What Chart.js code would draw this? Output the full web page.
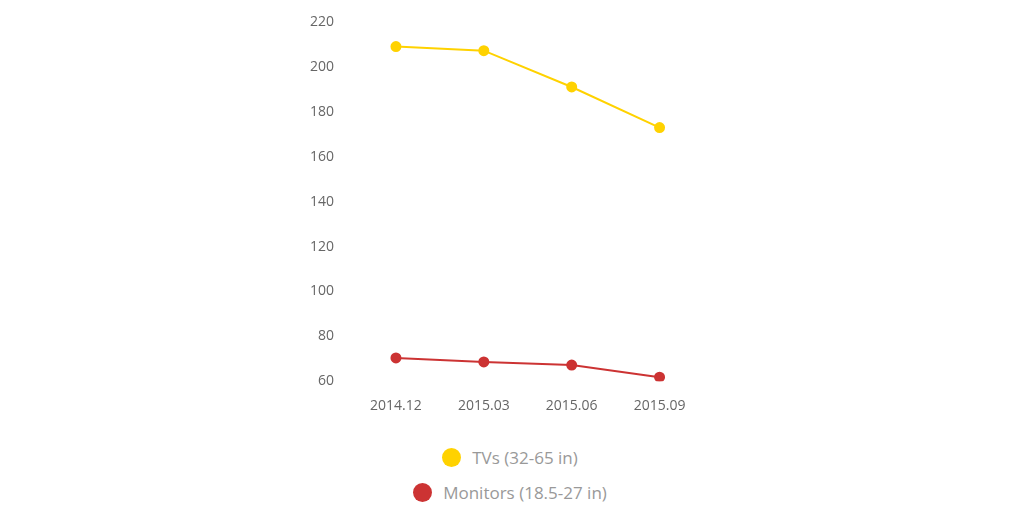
<!DOCTYPE html>
<html><head><meta charset="utf-8">
<script src="https://cdn.jsdelivr.net/npm/chart.js"></script>
<style>html,body{margin:0;background:#fff}#w{position:absolute;left:300px;top:4px;width:410px;height:418px}
#lg{position:absolute;left:300px;width:420px;top:440px;font-family:'Open Sans';font-size:17px;color:#999;text-align:center}
.it{display:flex;justify-content:center;align-items:center;height:35px}.d{width:19px;height:19px;border-radius:50%;margin-right:11px}</style>
</head><body><div id="w"><canvas id="c"></canvas></div><div id="lg"></div>
<script>
const categories=["2014.12","2015.03","2015.06","2015.09"];
const tvs=[209.2,207.4,191.2,173.1];
const monitors=[70.4,68.6,67.2,61.8];
const seriesNames=["TVs (32-65 in)","Monitors (18.5-27 in)"];
const colors=['#ffd200','#cc3333'];
const ch=new Chart(document.getElementById('c'),{type:'line',
data:{labels:categories,datasets:[
{label:seriesNames[0],data:tvs,borderColor:colors[0],backgroundColor:colors[0],pointRadius:4.5,borderWidth:2,tension:0},
{label:seriesNames[1],data:monitors,borderColor:colors[1],backgroundColor:colors[1],pointRadius:4.5,borderWidth:2,tension:0}]},
options:{responsive:true,maintainAspectRatio:false,animation:false,
layout:{padding:{right:6,top:8}},
scales:{x:{offset:true,grid:{display:false},border:{display:false},ticks:{color:'#666',font:{family:'Open Sans',size:14},padding:8}},
y:{min:60,max:220,grid:{display:false},border:{display:false},ticks:{stepSize:20,color:'#666',font:{family:'Open Sans',size:14},padding:10}}},
plugins:{tooltip:{enabled:false},legend:{display:false}}}});
document.getElementById('lg').innerHTML=ch.data.datasets.map(d=>`<div class="it"><span class="d" style="background:${d.borderColor}"></span>${d.label}</div>`).join('');
</script></body></html>
